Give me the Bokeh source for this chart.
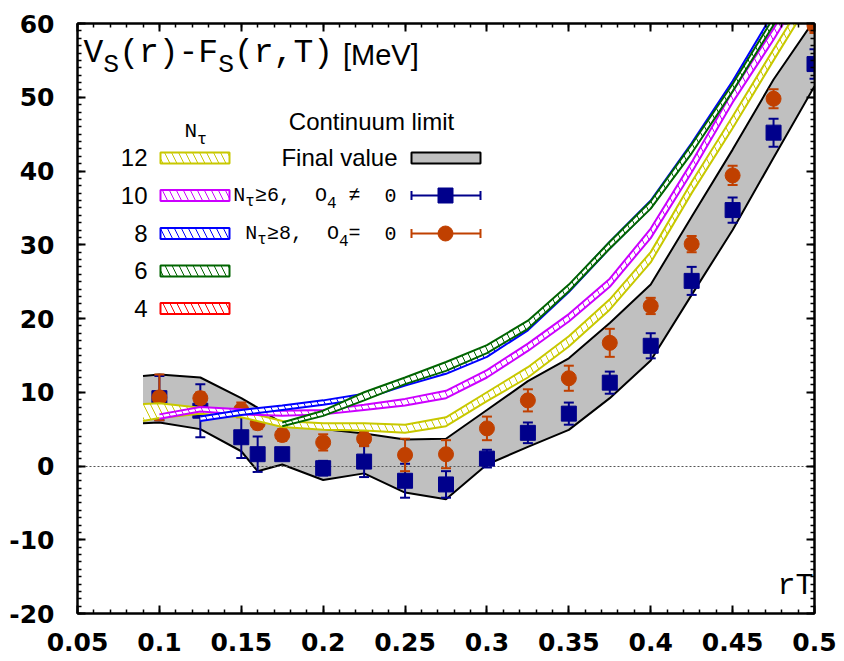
from bokeh.plotting import figure
from bokeh.models import Range1d, FixedTicker, LinearAxis, Label, BoxAnnotation
from bokeh.embed import file_html
from bokeh.resources import INLINE

# ---------------- data ----------------
x_ticks = [0.05, 0.1, 0.15, 0.2, 0.25, 0.3, 0.35, 0.4, 0.45, 0.5]
x_tick_labels = ["0.05", "0.1", "0.15", "0.2", "0.25", "0.3", "0.35", "0.4", "0.45", "0.5"]
y_ticks = [-20, -10, 0, 10, 20, 30, 40, 50, 60]
y_tick_labels = ["-20", "-10", "0", "10", "20", "30", "40", "50", "60"]

# continuum limit, final value (grey band)
rt_final = [0.09, 0.1, 0.125, 0.15, 0.16, 0.175, 0.2, 0.225, 0.25, 0.275, 0.3, 0.325, 0.35, 0.375, 0.4, 0.425, 0.45, 0.475, 0.5]
final_hi = [12.2, 12.4, 12.0, 9.2, 7.9, 5.8, 5.0, 4.4, 3.6, 3.7, 7.6, 11.5, 14.6, 19.4, 24.6, 33.8, 42.9, 52.4, 60.5]
final_lo = [5.8, 5.9, 5.0, 2.0, -0.7, 0.2, -1.9, -1.0, -3.6, -4.5, 0.2, 2.6, 4.9, 9.2, 14.3, 23.2, 32.0, 41.8, 51.5]

# continuum extrapolations (points with errors)
rt_pts = [0.1, 0.125, 0.15, 0.16, 0.175, 0.2, 0.225, 0.25, 0.275, 0.3, 0.325, 0.35, 0.375, 0.4, 0.425, 0.45, 0.475, 0.5]
o4_free = [9.2, 7.5, 3.9, 1.6, 1.6, -0.3, 0.6, -2.0, -2.5, 1.0, 4.5, 7.1, 11.3, 16.3, 25.1, 34.7, 45.2, 54.5]
o4_free_err = [3.0, 3.6, 2.8, 2.4, 0.8, 1.0, 2.1, 2.3, 1.8, 1.2, 1.4, 1.5, 1.5, 1.7, 1.9, 1.7, 1.9, 2.0]
o4_zero = [9.3, 9.2, 7.6, 5.8, 4.2, 3.2, 3.7, 1.5, 1.6, 5.1, 8.9, 11.9, 16.7, 21.7, 30.1, 39.4, 49.8, 59.7]
o4_zero_err = [3.1, 0.8, 1.0, 0.8, 0.8, 1.1, 1.0, 2.2, 1.9, 1.6, 1.5, 1.7, 1.9, 1.1, 1.1, 1.3, 1.3, 1.0]

# finite N_tau bands
rt12 = [0.09, 0.1, 0.125, 0.15, 0.175, 0.2, 0.225, 0.25, 0.275, 0.3, 0.325, 0.35, 0.375, 0.4, 0.425, 0.45, 0.475, 0.5]
nt12_hi = [8.4, 8.5, 7.9, 7.5, 6.1, 5.8, 5.8, 5.6, 6.6, 10.0, 13.4, 17.6, 22.6, 29.0, 38.5, 47.4, 56.5, 65.5]
nt12_lo = [6.1, 6.5, 7.1, 6.6, 5.3, 4.9, 4.8, 4.5, 5.4, 8.8, 12.0, 16.2, 21.2, 27.6, 37.0, 45.8, 55.0, 64.0]

rt10 = [0.1, 0.125, 0.15, 0.175, 0.2, 0.225, 0.25, 0.275, 0.3, 0.325, 0.35, 0.375, 0.4, 0.425, 0.45, 0.475, 0.5]
nt10_hi = [7.0, 8.0, 7.7, 7.5, 7.6, 8.3, 9.1, 10.2, 13.0, 16.6, 20.6, 25.4, 32.2, 41.2, 50.8, 59.3, 68.5]
nt10_lo = [6.4, 7.4, 7.0, 6.8, 7.0, 7.6, 8.2, 9.2, 12.0, 15.6, 19.6, 24.3, 30.9, 39.8, 49.3, 57.8, 67.0]

rt8 = [0.125, 0.15, 0.175, 0.2, 0.225, 0.25, 0.275, 0.3, 0.325, 0.35, 0.375, 0.4, 0.425, 0.45, 0.475, 0.5]
nt8_hi = [6.7, 7.6, 8.2, 8.9, 9.8, 11.8, 13.4, 15.7, 19.5, 24.5, 30.4, 36.0, 43.8, 52.2, 61.5, 71.0]
nt8_lo = [6.1, 6.9, 7.6, 8.3, 9.1, 10.9, 12.5, 14.8, 18.4, 23.6, 29.5, 35.0, 42.6, 51.1, 60.3, 69.8]

rt6 = [0.175, 0.2, 0.225, 0.25, 0.275, 0.3, 0.325, 0.35, 0.375, 0.4, 0.425, 0.45, 0.475, 0.5]
nt6_hi = [5.9, 7.5, 10.0, 12.0, 14.1, 16.4, 19.7, 24.6, 30.4, 35.9, 43.6, 51.8, 60.8, 70.0]
nt6_lo = [5.4, 6.8, 8.9, 11.1, 12.9, 15.3, 18.6, 23.7, 29.5, 34.9, 42.4, 50.8, 59.8, 69.0]

ntau_labels = ["12", "10", "8", "6", "4"]

# ---------------- style ----------------
W, H = 844, 661
BL, BR, BT, BB = 77, 30, 23, 48
XMIN, XMAX, YMIN, YMAX = 0.05, 0.5, -20, 60
C12, C10, C8, C6, C4 = "#c8c800", "#cc00ff", "#0000ff", "#006400", "#ff0000"
CRED, CBLUE = "#c04000", "#00008b"
TICK_FONT = "DejaVu Sans"
SANS = "Liberation Sans"
MONO = "Liberation Mono"
HATCH = dict(hatch_pattern="\\", hatch_weight=1.0, hatch_scale=14)

p = figure(width=W, height=H, output_backend="svg", toolbar_location=None,
           x_range=Range1d(XMIN, XMAX), y_range=Range1d(YMIN, YMAX),
           min_border_left=BL, min_border_right=BR, min_border_top=BT, min_border_bottom=BB)
p.grid.visible = False
p.outline_line_color = "black"
p.outline_line_width = 2
p.background_fill_color = "white"
p.border_fill_color = "white"

x_minor = [round(0.05 + 0.01 * i, 2) for i in range(46)]
y_minor = list(range(-20, 61))


def style_axis(ax, ticks, minor, labels, show):
    ax.ticker = FixedTicker(ticks=ticks, minor_ticks=minor)
    ax.axis_line_width = 2
    ax.axis_line_color = "black"
    ax.major_tick_in = 8
    ax.major_tick_out = 0
    ax.minor_tick_in = 4
    ax.minor_tick_out = 0
    ax.major_tick_line_width = 2
    ax.minor_tick_line_width = 1.5
    ax.axis_label = None
    if show:
        ax.major_label_overrides = {t: l for t, l in zip(ticks, labels)}
        ax.major_label_text_font = TICK_FONT
        ax.major_label_text_font_style = "bold"
        ax.major_label_text_font_size = "25px"
        ax.major_label_text_color = "black"
    else:
        ax.major_label_overrides = {t: "" for t in ticks}
        ax.major_label_text_font_size = "0px"
        ax.major_label_standoff = 0


style_axis(p.xaxis[0], x_ticks, x_minor, x_tick_labels, True)
p.xaxis[0].major_label_standoff = 19
style_axis(p.yaxis[0], y_ticks, y_minor, y_tick_labels, True)
p.yaxis[0].major_label_standoff = 23

top = LinearAxis()
style_axis(top, x_ticks, x_minor, x_tick_labels, False)
p.add_layout(top, "above")
right = LinearAxis()
style_axis(right, y_ticks, y_minor, y_tick_labels, False)
p.add_layout(right, "right")

# ---------------- grey band ----------------
p.varea(x=rt_final, y1=final_lo, y2=final_hi, fill_color="#c0c0c0")
p.line(rt_final, final_hi, line_color="black", line_width=2)
p.line(rt_final, final_lo, line_color="black", line_width=2)

# zero line
p.hspan(y=[0], line_color="#555555", line_width=1, line_dash="2 2")


# ---------------- points with errors ----------------
def err_points(xs, ys, es, color, marker):
    lo = [y - e for y, e in zip(ys, es)]
    hi = [y + e for y, e in zip(ys, es)]
    p.segment(x0=xs, y0=lo, x1=xs, y1=hi, line_color=color, line_width=2)
    p.scatter(xs, lo, marker="dash", size=10, line_color=color, line_width=2)
    p.scatter(xs, hi, marker="dash", size=10, line_color=color, line_width=2)
    p.scatter(xs, ys, marker=marker, size=15, fill_color=color, line_color=color)


err_points(rt_pts, o4_free, o4_free_err, CBLUE, "square")
err_points(rt_pts, o4_zero, o4_zero_err, CRED, "circle")


# ---------------- finite N_tau bands ----------------
def band(xs, lo, hi, color):
    p.varea(x=xs, y1=lo, y2=hi, fill_color="white", hatch_color=color, **HATCH)
    p.line(xs, hi, line_color=color, line_width=2)
    p.line(xs, lo, line_color=color, line_width=2)


band(rt12, nt12_lo, nt12_hi, C12)
band(rt10, nt10_lo, nt10_hi, C10)
band(rt8, nt8_lo, nt8_hi, C8)
band(rt6, nt6_lo, nt6_hi, C6)


# ---------------- texts and legend (positions in screen pixels) ----------------
def X(px):
    return XMIN + (px - BL) / (W - BL - BR) * (XMAX - XMIN)


def Y(py):
    return YMAX - (py - BT) / (H - BT - BB) * (YMAX - YMIN)


def lab(px, py, text, font, size, align="left", style="normal"):
    # py is the intended baseline; correct for the renderer's baseline offset
    p.add_layout(Label(x=X(px), y=Y(py - 0.36 * size), text=text, text_font=font,
                       text_font_size=f"{size}px", text_align=align,
                       text_baseline="alphabetic", text_font_style=style,
                       text_color="black"))


def mono(px, py, pieces, size, align="left"):
    sizes = [size * 0.8 if sub else size for _, sub in pieces]
    total = sum(0.6 * s * len(t) for (t, _), s in zip(pieces, sizes))
    x = px - total if align == "right" else px
    for (t, sub), s in zip(pieces, sizes):
        dy = 0.28 * size if sub else 0
        col = 0
        for tok in t.split(" "):
            if tok:
                lab(x + 0.6 * s * col, py + dy, tok, MONO, s)
            col += len(tok) + 1
        x += 0.6 * s * len(t)
    return x


end = mono(83, 65, [("V", 0), ("S", 1), ("(r)-F", 0), ("S", 1), ("(r,T)", 0)], 33)
lab(end + 10, 65, "[MeV]", SANS, 29)
mono(813, 596, [("rT", 0)], 30, align="right")

rows = [157.5, 195, 233, 270.5, 308]
mono(184, 139, [("N", 0), ("τ", 1)], 21)
for txt, ry, col in zip(ntau_labels, rows, [C12, C10, C8, C6, C4]):
    lab(147, ry + 8.5, txt, SANS, 24, align="right")
    p.add_layout(BoxAnnotation(left=X(160), right=X(229), top=Y(ry - 5.5), bottom=Y(ry + 5.5),
                               fill_color="white", fill_alpha=1, hatch_color=col, **HATCH,
                               line_color=col, line_width=2, line_alpha=1))

lab(371, 130, "Continuum limit", SANS, 24, align="center")
lab(397, rows[0] + 8.5, "Final value", SANS, 24, align="right")
p.add_layout(BoxAnnotation(left=X(411), right=X(480), top=Y(rows[0] - 5.5), bottom=Y(rows[0] + 5.5),
                           fill_color="#c0c0c0", fill_alpha=1, line_color="black",
                           line_width=2, line_alpha=1))

mono(396, rows[1] + 7, [("N", 0), ("τ", 1), ("≥6,  O", 0), ("4", 1), (" ≠  0", 0)], 20, align="right")
mono(396, rows[2] + 7, [("N", 0), ("τ", 1), ("≥8,  O", 0), ("4", 1), ("=  0", 0)], 20, align="right")

for ry, col, mk in [(rows[1], CBLUE, "square"), (rows[2], CRED, "circle")]:
    p.segment(x0=[X(411)], y0=[Y(ry)], x1=[X(480)], y1=[Y(ry)], line_color=col, line_width=2)
    p.scatter([X(411), X(480)], [Y(ry), Y(ry)], marker="dash", angle=1.5708, size=9,
              line_color=col, line_width=2)
    p.scatter([X(445)], [Y(ry)], marker=mk, size=15, fill_color=col, line_color=col)

open("out.html", "w").write(file_html(p, INLINE))
